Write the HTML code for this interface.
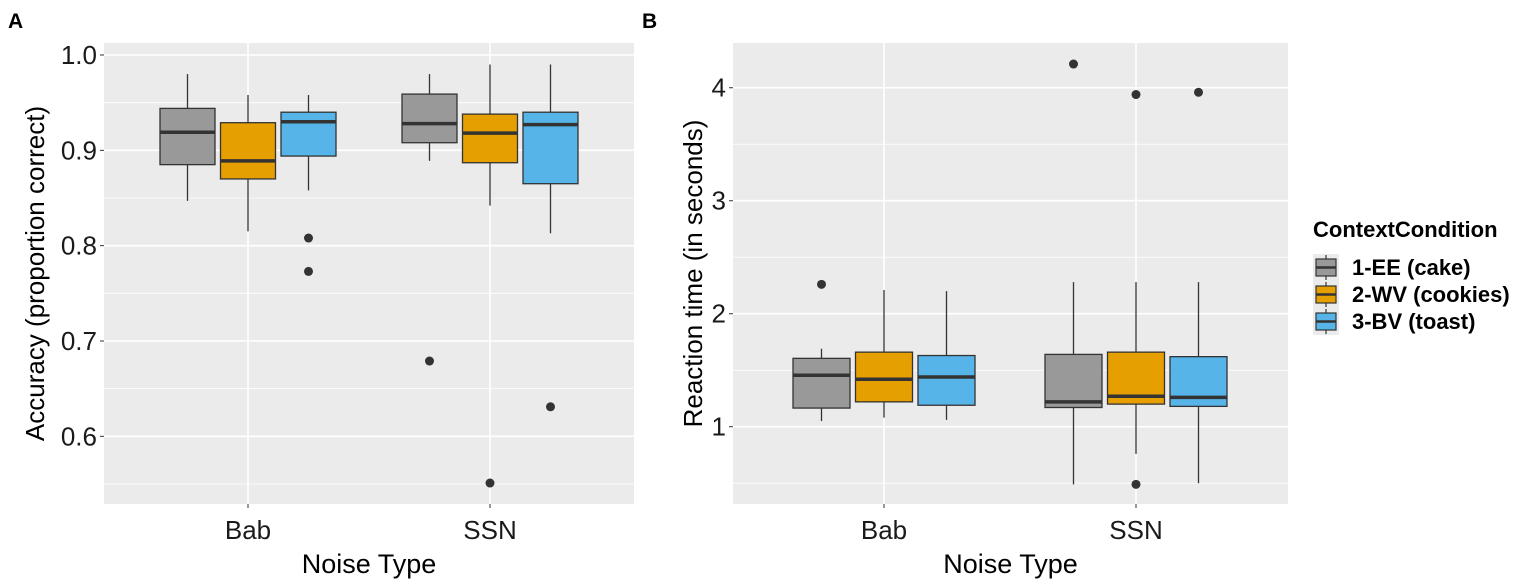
<!DOCTYPE html>
<html><head><meta charset="utf-8"><style>
body{margin:0;background:#fff;font-family:"Liberation Sans",sans-serif}
svg text{font-family:"Liberation Sans",sans-serif}
</style></head><body>
<svg id="c" width="1535" height="579"></svg>
<script>
const groups=["Bab","SSN"];
const conds=["1-EE (cake)","2-WV (cookies)","3-BV (toast)"];
const colors=["#999999","#E69F00","#56B4E9"];
// Panel A accuracy: [low, q1, med, q3, high] per group per condition
const accStats=[[[0.847,0.885,0.919,0.944,0.98],[0.815,0.870,0.889,0.929,0.958],[0.858,0.894,0.930,0.940,0.958]],
[[0.889,0.908,0.928,0.959,0.98],[0.842,0.887,0.918,0.938,0.99],[0.813,0.865,0.927,0.940,0.99]]];
const accOut=[[[],[],[0.808,0.773]],[[0.679],[0.551],[0.631]]];
const accTicks=[0.6,0.7,0.8,0.9,1.0];
const accTickLabels=["0.6","0.7","0.8","0.9","1.0"];
const accMinor=[0.55,0.65,0.75,0.85,0.95];
// Panel B reaction time
const rtStats=[[[1.05,1.165,1.455,1.605,1.69],[1.08,1.22,1.42,1.66,2.21],[1.06,1.19,1.44,1.63,2.20]],
[[0.49,1.17,1.22,1.64,2.28],[0.76,1.20,1.27,1.66,2.28],[0.50,1.18,1.26,1.62,2.28]]];
const rtOut=[[[2.26],[],[]],[[4.21],[3.94,0.49],[3.96]]];
const rtTicks=[1,2,3,4];
const rtTickLabels=["1","2","3","4"];
const rtMinor=[0.5,1.5,2.5,3.5];

const NS="http://www.w3.org/2000/svg",svg=document.getElementById('c');
function el(t,a,p){const e=document.createElementNS(NS,t);for(const k in a)e.setAttribute(k,a[k]);(p||svg).appendChild(e);return e;}
function txt(s,a,p){const e=el('text',a,p);e.textContent=s;return e;}

function panel(o){
  const g=el('g',{});
  
  
  const y=v=>o.y0-(v-o.vmin)/(o.vmax-o.vmin)*(o.y0-o.y1);
  const xc=i=>o.xa+i*(o.xb-o.xa);
  const bg=el('rect',{x:o.x0,y:o.y1,width:o.x1-o.x0,height:o.y0-o.y1,fill:'#EBEBEB'},g);
  
  o.minor.forEach(v=>el('line',{x1:o.x0,x2:o.x1,y1:y(v),y2:y(v),stroke:'#fff','stroke-width':0.8},g));
  o.ticks.forEach((v,i)=>{
    el('line',{x1:o.x0,x2:o.x1,y1:y(v),y2:y(v),stroke:'#fff','stroke-width':1.6},g);
    el('line',{x1:o.x0-4,x2:o.x0,y1:y(v),y2:y(v),stroke:'#333','stroke-width':1},g);
    const t=txt(o.tickLabels[i],{x:o.x0-7,y:y(v)+9,'text-anchor':'end','font-size':26,fill:'#1a1a1a'},g);
    
  });
  groups.forEach((gn,i)=>{
    el('line',{x1:xc(i),x2:xc(i),y1:o.y1,y2:o.y0,stroke:'#fff','stroke-width':1.6},g);
    el('line',{x1:xc(i),x2:xc(i),y1:o.y0,y2:o.y0+4,stroke:'#333','stroke-width':1},g);
    const t=txt(gn,{x:xc(i),y:o.y0+35,'text-anchor':'middle','font-size':26,fill:'#1a1a1a'},g);
    
    conds.forEach((c,j)=>{
      const s=o.stats[i][j],cx=xc(i)+(j-1)*o.dodge,w=o.bw;
      const b=el('g',{},g);
      
      
      el('line',{x1:cx,x2:cx,y1:y(s[0]),y2:y(s[4]),stroke:'#333','stroke-width':1.3},b);
      el('rect',{x:cx-w/2,y:y(s[3]),width:w,height:y(s[1])-y(s[3]),fill:colors[j],stroke:'#333','stroke-width':1.3},b);
      el('line',{x1:cx-w/2,x2:cx+w/2,y1:y(s[2]),y2:y(s[2]),stroke:'#333','stroke-width':3.5},b);
      o.out[i][j].forEach(v=>{const p=el('circle',{cx:cx,cy:y(v),r:4.5,fill:'#333'},b);
        });
    });
  });
  const xt=txt('Noise Type',{x:(o.x0+o.x1)/2,y:o.y0+69,'text-anchor':'middle','font-size':27,fill:'#000'},g);
  
  const yt=txt(o.ytitle,{transform:`translate(${o.ytx},${(o.y0+o.y1)/2}) rotate(-90)`,'text-anchor':'middle','font-size':26,fill:'#000'},g);
  
  const L=txt(o.letter,{x:o.lx,y:28,'font-size':21,'font-weight':'bold',fill:'#000'},g);
  
}
panel({name:'panel-a-accuracy',x0:104,x1:634,y1:43,y0:504,vmin:0.529,vmax:1.0126,xa:248,xb:490,
  ticks:accTicks,tickLabels:accTickLabels,minor:accMinor,stats:accStats,out:accOut,bw:55,dodge:60.5,
  ytitle:'Accuracy (proportion correct)',ytx:44,letter:'A',lx:8});
panel({name:'panel-b-reaction-time',x0:733,x1:1288,y1:43,y0:504,vmin:0.316,vmax:4.396,xa:884,xb:1136,
  ticks:rtTicks,tickLabels:rtTickLabels,minor:rtMinor,stats:rtStats,out:rtOut,bw:57,dodge:62.5,
  ytitle:'Reaction time (in seconds)',ytx:702,letter:'B',lx:642});
// legend
const lg=el('g',{});

const lt=txt('ContextCondition',{x:1313,y:237,'font-size':22,'font-weight':'bold',fill:'#000'},lg);

conds.forEach((c,j)=>{
  const e=el('g',{},lg);
  
  const yy=254+j*27;
  el('rect',{x:1313,y:yy,width:26,height:27,fill:'#EBEBEB'},e);
  el('line',{x1:1326,x2:1326,y1:yy+1,y2:yy+26,stroke:'#333','stroke-width':1.2},e);
  el('rect',{x:1316,y:yy+5,width:20,height:17,fill:colors[j],stroke:'#333','stroke-width':1.2},e);
  el('line',{x1:1316,x2:1336,y1:yy+13.5,y2:yy+13.5,stroke:'#333','stroke-width':2.5},e);
  txt(c,{x:1352,y:yy+21,'font-size':22,'font-weight':'bold',fill:'#000'},e);
});
</script>
</body></html>
